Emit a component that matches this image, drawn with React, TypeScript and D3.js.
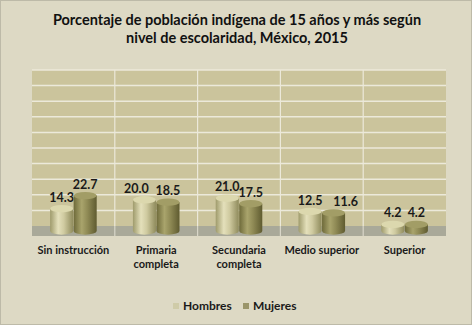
import React from "react";
import * as d3 from "d3";

const categories = [["Sin instrucción"], ["Primaria", "completa"], ["Secundaria", "completa"], ["Medio superior"], ["Superior"]];
const seriesNames = ["Hombres", "Mujeres"];
const hombres = [14.3, 20.0, 21.0, 12.5, 4.2];
const mujeres = [22.7, 18.5, 17.5, 11.6, 4.2];
const gridTicks = [0, 10, 20, 30, 40, 50, 60, 70, 80, 90, 100];

const W = 474, H = 327;
const FONT = "Lato, 'Open Sans', sans-serif";
// manual nudges of data labels (as in the reference)
const labelDx = [[0, -8, 0, 0, 0], [0, 0, 0, 12, 0]];

export default function App() {
  const catKeys = categories.map((c) => c.join(" "));
  const x = d3.scaleBand<string>().domain(catKeys).range([32, 446]).padding(0);
  const xi = d3.scaleBand<string>().domain(seriesNames).range([0, x.bandwidth()]).paddingInner(0.02).paddingOuter(0.77);
  const y = d3.scaleLinear().domain([0, 100]).range([226, 70]);
  const depth = 5;
  const ry = 3.7;
  const values = [hombres, mujeres];
  const grads = ["gH", "gM"];
  const topFill = ["#dcd8ae", "#a29d66"];
  const legendColors = ["#cfcba8", "#9a956a"];

  return (
    <svg width={W} height={H} style={{ position: "absolute", left: 0, top: 0 }}>
      <defs>
        <linearGradient id="gH" x1="0" x2="1" y1="0" y2="0">
          <stop offset="0" stopColor="#9f9b6c" />
          <stop offset="0.35" stopColor="#e4e0bb" />
          <stop offset="0.6" stopColor="#cfcaa0" />
          <stop offset="1" stopColor="#8f8b5c" />
        </linearGradient>
        <linearGradient id="gM" x1="0" x2="1" y1="0" y2="0">
          <stop offset="0" stopColor="#6e6a3a" />
          <stop offset="0.35" stopColor="#a9a46c" />
          <stop offset="0.6" stopColor="#8f8a55" />
          <stop offset="1" stopColor="#5f5b30" />
        </linearGradient>
      </defs>
      <rect x={0.5} y={0.5} width={W - 3} height={H - 3} fill="#ddd9c4" stroke="#bdbaa8" />
      <text x={237} y={25} textAnchor="middle" fontFamily={FONT} fontWeight="bold" fontSize={14.5} fill="#111">
        Porcentaje de población indígena de 15 años y más según
      </text>
      <text x={237} y={43} textAnchor="middle" fontFamily={FONT} fontWeight="bold" fontSize={14.5} fill="#111">
        nivel de escolaridad, México, 2015
      </text>
      {/* wall */}
      <rect x={32} y={y(100)} width={414} height={y(0) - y(100)} fill="#cbc49c" />
      {gridTicks.slice(1).map((t) => (
        <line key={t} x1={32} x2={446} y1={y(t)} y2={y(t)} stroke="#ece9da" strokeWidth={1.5} />
      ))}
      {catKeys.slice(1).map((k) => (
        <line key={k} x1={x(k)} x2={x(k)} y1={y(100)} y2={236} stroke="#ece9da" strokeWidth={1.2} />
      ))}
      {/* floor */}
      <rect x={32} y={y(0)} width={414} height={10} fill="#a9a999" />
      {catKeys.slice(1).map((k) => (
        <line key={"f" + k} x1={x(k)} x2={x(k)} y1={y(0)} y2={236} stroke="#d8d6c8" strokeWidth={1.2} />
      ))}
      {/* bars */}
      {catKeys.map((k, ci) =>
        seriesNames.map((s, si) => {
          const v = values[si][ci];
          const bx = (x(k) as number) + (xi(s) as number);
          const bw = xi.bandwidth();
          const cx = bx + bw / 2;
          const yb = y(0) + depth;
          const yt = y(v) + depth;
          return (
            <g key={k + s}>
              <path
                d={`M${bx},${yt} L${bx},${yb} A${bw / 2},${ry} 0 0 0 ${bx + bw},${yb} L${bx + bw},${yt} Z`}
                fill={`url(#${grads[si]})`}
              />
              <ellipse cx={cx} cy={yt} rx={bw / 2} ry={ry} fill={topFill[si]} />
              <text x={cx + labelDx[si][ci]} y={yt - 7} textAnchor="middle" fontFamily={FONT} fontWeight="bold" fontSize={12.5} fill="#1a1a1a">
                {d3.format(".1f")(v)}
              </text>
            </g>
          );
        })
      )}
      {/* category labels */}
      {categories.map((lines, ci) => (
        <text key={ci} textAnchor="middle" fontFamily={FONT} fontWeight="bold" fontSize={11} fill="#1a1a1a">
          {lines.map((l, li) => (
            <tspan key={li} x={(x(catKeys[ci]) as number) + x.bandwidth() / 2} y={254 + li * 14}>
              {l}
            </tspan>
          ))}
        </text>
      ))}
      {/* legend */}
      {seriesNames.map((s, si) => {
        const lx = [173, 243][si];
        return (
          <g key={s}>
            <rect x={lx} y={303} width={6} height={6} fill={legendColors[si]} />
            <text x={lx + 10} y={310} fontFamily={FONT} fontWeight="bold" fontSize={12} fill="#1a1a1a">
              {s}
            </text>
          </g>
        );
      })}
    </svg>
  );
}
